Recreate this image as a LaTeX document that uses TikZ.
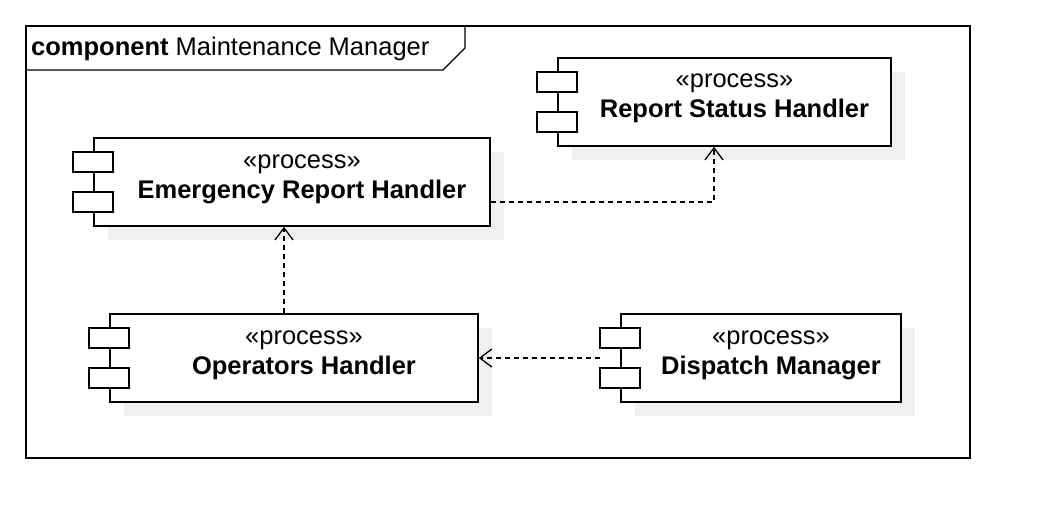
\documentclass[tikz,border=0pt]{standalone}
\usepackage{fontspec}
\setmainfont{Liberation Sans}
\usetikzlibrary{arrows.meta,shadows}

\begin{document}
\begin{tikzpicture}[x=1pt,y=-1pt,
    comp/.style={draw, line width=1.6pt, fill=white, minimum height=88pt, inner sep=0pt,
      drop shadow={shadow xshift=14pt, shadow yshift=-14pt, fill=black!6, opacity=1}},
    port/.style={draw, line width=1.6pt, fill=white},
    txt/.style={anchor=base, inner sep=0pt, font=\fontsize{25.5}{30}\selectfont},
    dep/.style={line width=1.3pt, dash pattern=on 5pt off 4pt,
      -{Straight Barb[length=12pt,width=18pt,line width=1.3pt]}}]
  \useasboundingbox (0,0) rectangle (1044,532);

  % frame
  \draw[line width=1.4pt] (26,26) rectangle (970,458);
  \draw[line width=1.4pt] (26,70) -- (443,70) -- (465,48) -- (465,26);
  \node[txt, anchor=base west] (title) at (31,56) {\textbf{component} Maintenance Manager};

  % components
  \node[comp, minimum width=333pt] (rsh) at (724.5,102) {};
  \node[comp, minimum width=396pt] (erh) at (292,182) {};
  \node[comp, minimum width=368pt] (ohd) at (294,358) {};
  \node[comp, minimum width=280pt] (dpm) at (761,358) {};

  \foreach \n/\t in {rsh/Report Status Handler, erh/Emergency Report Handler,
                     ohd/Operators Handler, dpm/Dispatch Manager} {
    \node[txt] (\n-st) at ([shift={(10pt,14pt)}]\n.center) {«process»};
    \node[txt] (\n-nm) at ([shift={(10pt,-16pt)}]\n.center) {\textbf{\t}};
    \draw[port] ([shift={(-20pt,10pt)}]\n.west) rectangle ([shift={(20pt,30pt)}]\n.west);
    \draw[port] ([shift={(-20pt,-10pt)}]\n.west) rectangle ([shift={(20pt,-30pt)}]\n.west);
  }

  % dependencies
  \draw[dep] ([yshift=-20pt]erh.east) -| ([xshift=-10.5pt]rsh.south);
  \draw[dep] ([xshift=-10pt]ohd.north) -- ([xshift=-10pt]ohd.north |- erh.south);
  \draw[dep] ([xshift=-20pt]dpm.west) -- (dpm.west -| ohd.east);
\end{tikzpicture}
\end{document}
